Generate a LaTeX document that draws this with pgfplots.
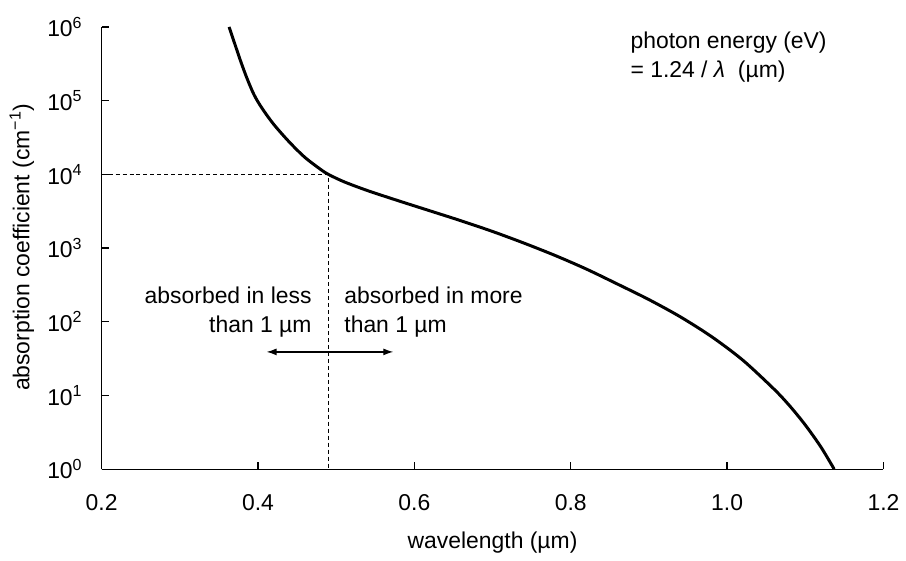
\documentclass[border=0pt]{standalone}
\usepackage{fontspec}
\setmainfont{Liberation Sans}
\usepackage{pgfplots}
\pgfplotsset{compat=1.18}
\usetikzlibrary{arrows.meta}

\begin{document}
\begin{tikzpicture}[font=\fontsize{11.5}{14.5}\selectfont]
\begin{axis}[
    scale only axis,
    width=392.5pt, height=222pt,
    ymode=log,
    xmin=0.2, xmax=1.2, ymin=1, ymax=1e6,
    axis x line*=bottom, axis y line*=left,
    axis line style={line width=0.6pt},
    xtick={0.2,0.4,0.6,0.8,1.0,1.2},
    xticklabels={0.2,0.4,0.6,0.8,1.0,1.2},
    ytick={1,10,100,1000,10000,100000,1000000},
    yticklabels={10\textsuperscript{0},10\textsuperscript{1},10\textsuperscript{2},10\textsuperscript{3},10\textsuperscript{4},10\textsuperscript{5},10\textsuperscript{6}},
    yminorticks=false,
    tick align=inside,
    major tick length=3.5pt,
    tick style={line width=0.6pt, black},
    xticklabel style={yshift=-9pt},
    yticklabel style={xshift=-6pt},
    xlabel={wavelength (µm)},
    ylabel={absorption coefficient (cm\textsuperscript{−1})},
    xlabel style={at={(axis description cs:0.5,-0.167)}, anchor=center},
    ylabel style={at={(axis description cs:-0.102,0.502)}, anchor=center},
    clip=false,
]
% absorption curve
\addplot[line width=1.5pt, smooth, tension=0.5] coordinates {
  (0.363,1e6) (0.370,6.03e5) (0.378,3.39e5) (0.386,2.0e5) (0.395,1.2e5)
  (0.405,7.94e4) (0.420,4.79e4) (0.440,2.75e4) (0.460,1.70e4) (0.480,1.17e4)
  (0.490,1.0e4) (0.510,7.94e3) (0.540,6.03e3) (0.580,4.37e3) (0.620,3.20e3)
  (0.660,2.34e3) (0.700,1.68e3) (0.740,1.17e3) (0.780,794) (0.820,519)
  (0.860,324) (0.900,200) (0.940,117) (0.980,63) (1.020,30.2)
  (1.060,12.2) (1.080,7.24) (1.100,3.98) (1.120,2.0) (1.137,1)
};
% guide lines
\addplot[line width=0.5pt, dash pattern=on 2pt off 1.5pt] coordinates {(0.2,1e4) (0.49,1e4) (0.49,1)};
% arrow
\addplot[line width=0.6pt, {Latex[length=5pt,width=3.5pt]}-{Latex[length=5pt,width=3.5pt]}] coordinates {(0.411,39) (0.573,39)};

\node[anchor=east, align=right, inner sep=0pt] at (axis cs:0.469,135) {absorbed in less\\than 1 µm};
\node[anchor=west, align=left, inner sep=0pt] at (axis cs:0.51,135) {absorbed in more\\than 1 µm};
\node[anchor=west, align=left, inner sep=0pt] at (axis cs:0.876,3.9e5) {photon energy (eV)\\= 1.24 / \textit{λ} \ (µm)};

\path (rel axis cs:-0.130,-0.191) (rel axis cs:1.024,1.061);
\end{axis}
\end{tikzpicture}
\end{document}
